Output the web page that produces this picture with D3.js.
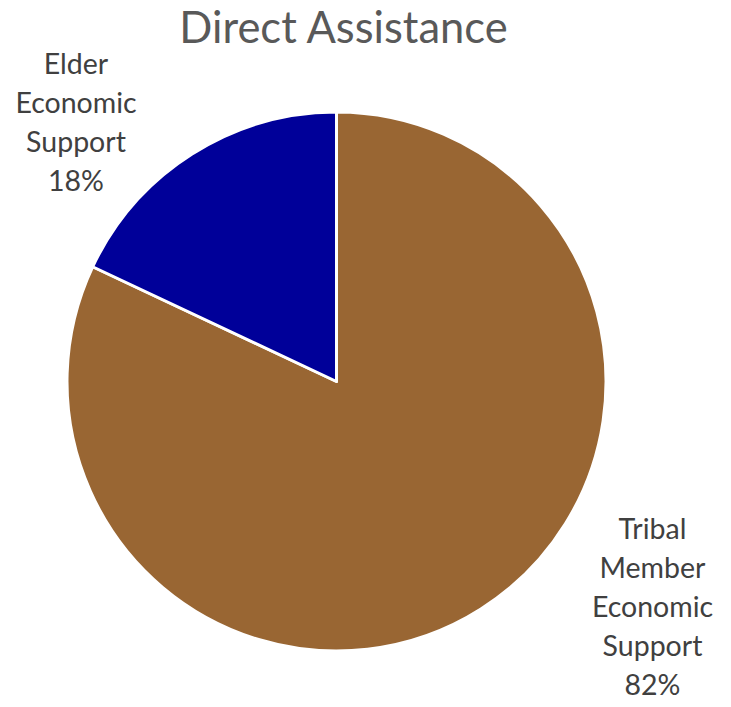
<!DOCTYPE html>
<html>
<head>
<meta charset="utf-8">
<script src="https://cdn.jsdelivr.net/npm/d3@7"></script>
<style>
  html, body { margin: 0; padding: 0; background: #ffffff; }
  svg { display: block; }
</style>
</head>
<body>
<script>
const title = "Direct Assistance";
const categories = ["Tribal Member Economic Support", "Elder Economic Support"];
const values = [82, 18];
const labelLines = [
  ["Tribal", "Member", "Economic", "Support", "82%"],
  ["Elder", "Economic", "Support", "18%"]
];
const colors = ["#996633", "#000099"];

const W = 731, H = 707;
const cx = 336.5, cy = 381.5, R = 269.5;
const font = "Lato, Carlito, Calibri, 'Open Sans', sans-serif";

const svg = d3.select("body").append("svg").attr("width", W).attr("height", H);

svg.append("text")
  .attr("x", 343.5).attr("y", 43)
  .attr("text-anchor", "middle")
  .attr("font-family", font)
  .attr("font-size", 43.5)
  .attr("fill", "#595959")
  .text(title);

const data = categories.map((c, i) => ({ name: c, value: values[i], lines: labelLines[i], color: colors[i] }));
const pie = d3.pie().value(d => d.value).sort(null);
const arc = d3.arc().innerRadius(0).outerRadius(R);

const g = svg.append("g").attr("transform", `translate(${cx},${cy})`);
g.selectAll("path").data(pie(data)).join("path")
  .attr("d", arc)
  .attr("fill", d => d.data.color)
  .attr("stroke", "#ffffff")
  .attr("stroke-width", 3)
  .attr("stroke-linejoin", "round");

// label anchor positions (center x, first baseline y), relative to page
const labelPos = [[652.5, 539], [76, 74]];
const lineH = 39;
data.forEach((d, i) => {
  const t = svg.append("text")
    .attr("text-anchor", "middle")
    .attr("font-family", font)
    .attr("font-size", 28.5)
    .attr("fill", "#404040");
  d.lines.forEach((ln, j) => {
    t.append("tspan").attr("x", labelPos[i][0]).attr("y", labelPos[i][1] + j * lineH).text(ln);
  });
});
</script>
</body>
</html>
